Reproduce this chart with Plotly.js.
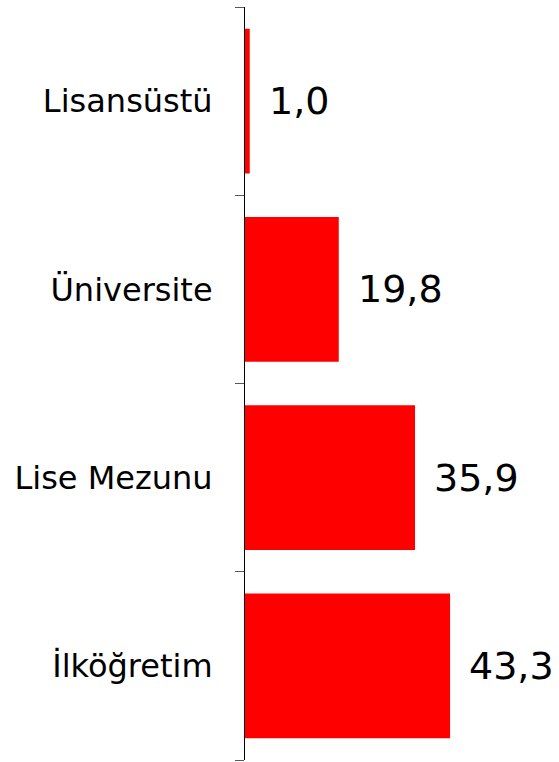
<!DOCTYPE html>
<html>
<head>
<meta charset="utf-8">
<script src="https://cdn.plot.ly/plotly-3.0.1.min.js"></script>
<style>html,body{margin:0;padding:0;background:#fff;}#chart{width:559px;height:762px;}</style>
</head>
<body>
<div id="chart"></div>
<script>
var categories = ["İlköğretim", "Lise Mezunu", "Üniversite", "Lisansüstü"];
var values = [43.3, 35.9, 19.8, 1.0];
var valueLabels = values.map(function(v){ return v.toFixed(1).replace('.', ','); });

var trace = {
  type: 'bar',
  orientation: 'h',
  x: values,
  y: categories,
  marker: {color: '#ff0000'},
  hoverinfo: 'none'
};

var annotations = values.map(function(v, i){
  return {
    x: v, y: categories[i], xref: 'x', yref: 'y',
    text: valueLabels[i], showarrow: false,
    xanchor: 'left', yanchor: 'middle', xshift: 17,
    font: {family: 'DejaVu Sans, Verdana, sans-serif', size: 38, color: '#000'}
  };
});

var layout = {
  width: 559, height: 762,
  margin: {l: 245, r: 0, t: 7, b: 2, pad: 0},
  paper_bgcolor: '#fff', plot_bgcolor: '#fff',
  showlegend: false,
  bargap: 0.23,
  xaxis: {range: [0, 66.3], visible: false, showgrid: false, zeroline: false, fixedrange: true},
  yaxis: {
    type: 'category',
    categoryorder: 'array', categoryarray: categories,
    showline: true, linecolor: '#000', linewidth: 1,
    ticks: 'outside', ticklen: 9, tickcolor: '#595959', tickwidth: 1,
    tickson: 'boundaries',
    showgrid: false, zeroline: false,
    ticklabelstandoff: 25,
    automargin: false,
    tickfont: {family: 'DejaVu Sans, Verdana, sans-serif', size: 32, color: '#000'}
  },
  annotations: annotations
};

Plotly.newPlot('chart', [trace], layout, {staticPlot: true, displayModeBar: false});
</script>
</body>
</html>
